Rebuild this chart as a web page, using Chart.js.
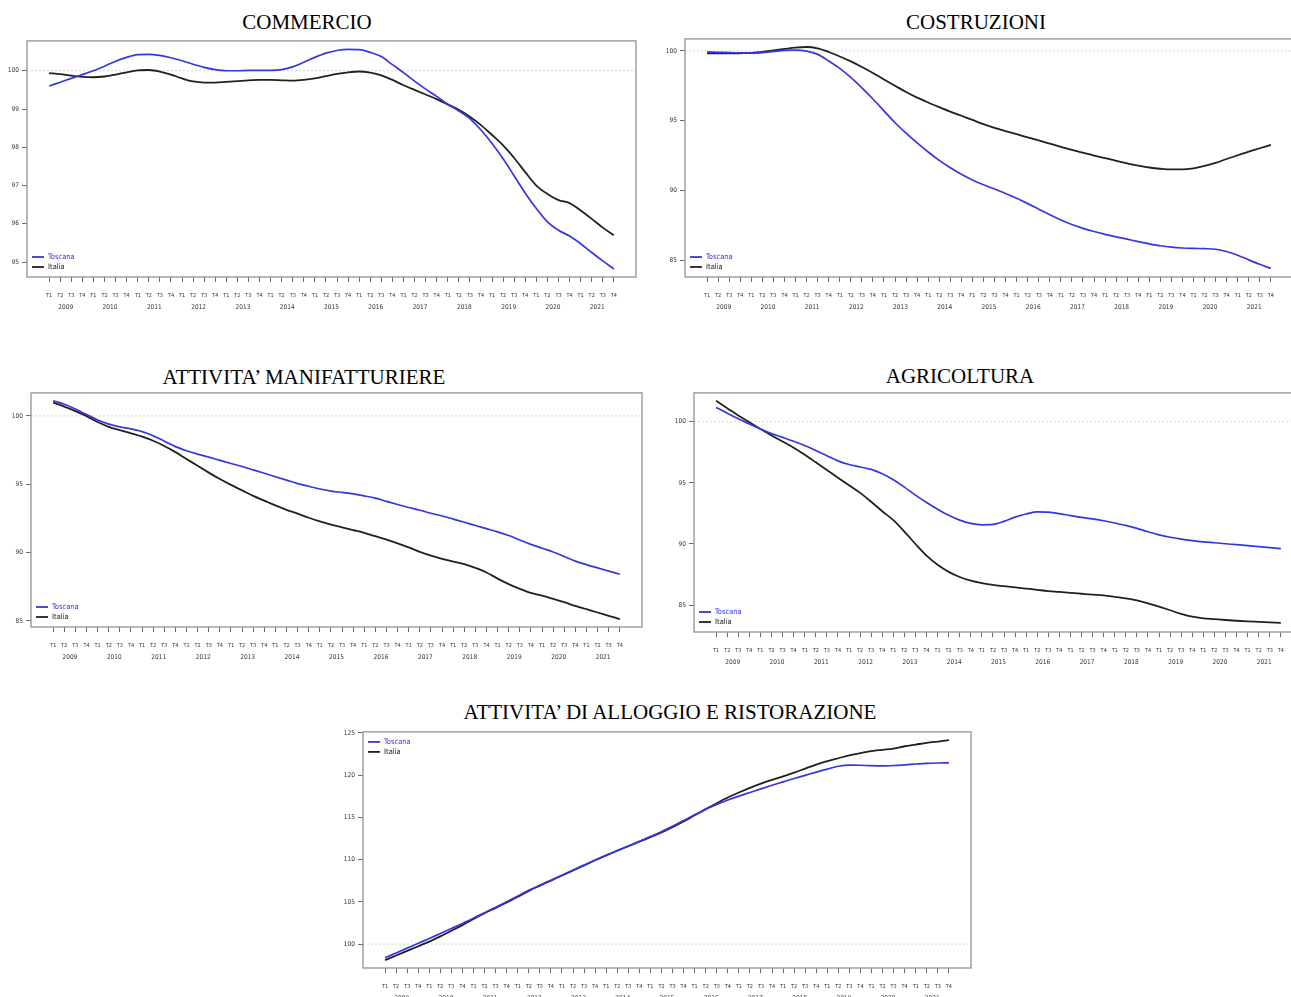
<!DOCTYPE html>
<html>
<head>
<meta charset="utf-8">
<script src="https://cdn.jsdelivr.net/npm/chart.js@4.4.1/dist/chart.umd.min.js"></script>
<style>
  html, body { margin: 0; padding: 0; background: #fff; }
  body { width: 1291px; height: 997px; overflow: hidden; position: relative; }
  .title { position: absolute; font-family: 'Liberation Serif', 'Times New Roman', serif; font-size: 21px;
           line-height: 1; color: #000; white-space: nowrap; transform: translateX(-50%); }
  canvas { position: absolute; }
</style>
</head>
<body>
<script>
// Quarterly index series, 2009 T1 – 2021 T4 (base = 100)
const quarters = ['T1', 'T2', 'T3', 'T4'];
const years = [2009, 2010, 2011, 2012, 2013, 2014, 2015, 2016, 2017, 2018, 2019, 2020, 2021];
const seriesNames = ['Toscana', 'Italia'];
const baseIndex = 100;

const commercioToscana = [
  99.60, 99.70, 99.80, 99.90, 100.00, 100.12, 100.25, 100.35, 100.42, 100.43,
  100.40, 100.34, 100.26, 100.17, 100.09, 100.03, 100.00, 100.00, 100.01, 100.01,
  100.01, 100.03, 100.10, 100.22, 100.35, 100.46, 100.53, 100.56, 100.55, 100.48,
  100.37, 100.16, 99.95, 99.73, 99.52, 99.33, 99.12, 98.95, 98.75, 98.45,
  98.10, 97.70, 97.25, 96.80, 96.40, 96.05, 95.83, 95.68, 95.48, 95.25,
  95.03, 94.82];
const commercioItalia = [
  99.94, 99.91, 99.87, 99.84, 99.83, 99.85, 99.90, 99.96, 100.01, 100.02,
  99.98, 99.90, 99.80, 99.72, 99.69, 99.69, 99.71, 99.73, 99.75, 99.76,
  99.76, 99.75, 99.74, 99.76, 99.80, 99.86, 99.92, 99.96, 99.98, 99.95,
  99.88, 99.76, 99.62, 99.50, 99.38, 99.26, 99.12, 98.98, 98.80, 98.58,
  98.32, 98.05, 97.72, 97.35, 97.00, 96.78, 96.62, 96.54, 96.35, 96.13,
  95.90, 95.70];

const costruzioniToscana = [
  99.93, 99.90, 99.87, 99.85, 99.84, 99.88, 99.96, 100.04, 100.06, 99.98,
  99.75, 99.28, 98.75, 98.10, 97.35, 96.55, 95.70, 94.85, 94.10, 93.40,
  92.75, 92.15, 91.62, 91.15, 90.75, 90.40, 90.10, 89.78, 89.43, 89.05,
  88.65, 88.25, 87.88, 87.55, 87.28, 87.05, 86.85, 86.67, 86.50, 86.33,
  86.17, 86.03, 85.93, 85.87, 85.84, 85.82, 85.78, 85.62, 85.35, 85.02,
  84.70, 84.40];
const costruzioniItalia = [
  99.83, 99.82, 99.82, 99.83, 99.85, 99.92, 100.03, 100.14, 100.24, 100.28,
  100.18, 99.92, 99.60, 99.25, 98.85, 98.42, 97.95, 97.50, 97.05, 96.65,
  96.30, 95.97, 95.65, 95.35, 95.05, 94.75, 94.48, 94.25, 94.03, 93.80,
  93.58, 93.35, 93.12, 92.90, 92.70, 92.50, 92.32, 92.12, 91.94, 91.78,
  91.64, 91.55, 91.50, 91.50, 91.58, 91.75, 91.97, 92.25, 92.52, 92.78,
  93.02, 93.26];

const manifatturiereToscana = [
  101.10, 100.85, 100.50, 100.10, 99.70, 99.40, 99.20, 99.05, 98.85, 98.55,
  98.15, 97.75, 97.45, 97.20, 96.98, 96.75, 96.52, 96.30, 96.05, 95.80,
  95.55, 95.30, 95.05, 94.85, 94.65, 94.50, 94.40, 94.30, 94.15, 93.98,
  93.75, 93.52, 93.30, 93.10, 92.88, 92.68, 92.45, 92.22, 91.98, 91.75,
  91.52, 91.25, 90.92, 90.60, 90.32, 90.05, 89.72, 89.38, 89.12, 88.88,
  88.65, 88.42];
const manifatturiereItalia = [
  100.97, 100.68, 100.35, 99.98, 99.55, 99.20, 98.95, 98.72, 98.48, 98.18,
  97.80, 97.35, 96.85, 96.35, 95.85, 95.38, 94.95, 94.55, 94.15, 93.80,
  93.45, 93.13, 92.85, 92.55, 92.28, 92.05, 91.85, 91.65, 91.45, 91.20,
  90.95, 90.68, 90.38, 90.05, 89.78, 89.55, 89.35, 89.15, 88.88, 88.55,
  88.10, 87.70, 87.35, 87.05, 86.85, 86.62, 86.38, 86.10, 85.86, 85.62,
  85.38, 85.14];

const agricolturaToscana = [
  101.17, 100.70, 100.25, 99.82, 99.40, 99.03, 98.72, 98.40, 98.05, 97.65,
  97.22, 96.80, 96.50, 96.30, 96.10, 95.75, 95.25, 94.65, 94.00, 93.40,
  92.85, 92.35, 91.95, 91.68, 91.57, 91.60, 91.85, 92.20, 92.45, 92.62,
  92.60, 92.48, 92.32, 92.18, 92.05, 91.90, 91.72, 91.52, 91.28, 91.00,
  90.75, 90.55, 90.40, 90.28, 90.18, 90.10, 90.02, 89.94, 89.86, 89.78,
  89.70, 89.62];
const agricolturaItalia = [
  101.71, 101.10, 100.52, 99.95, 99.40, 98.88, 98.38, 97.88, 97.30, 96.68,
  96.05, 95.42, 94.80, 94.18, 93.45, 92.68, 91.95, 91.02, 90.00, 89.05,
  88.30, 87.72, 87.30, 87.00, 86.80, 86.65, 86.55, 86.45, 86.35, 86.25,
  86.15, 86.08, 86.00, 85.93, 85.86, 85.80, 85.68, 85.55, 85.38, 85.15,
  84.88, 84.58, 84.28, 84.05, 83.92, 83.85, 83.78, 83.72, 83.67, 83.63,
  83.59, 83.55];

const alloggioToscana = [
  98.39, 98.95, 99.52, 100.10, 100.67, 101.26, 101.85, 102.45, 103.08, 103.72,
  104.35, 105.00, 105.68, 106.37, 106.97, 107.56, 108.15, 108.75, 109.35, 109.95,
  110.52, 111.08, 111.62, 112.17, 112.72, 113.30, 113.95, 114.62, 115.30, 115.95,
  116.52, 117.05, 117.52, 117.95, 118.38, 118.80, 119.20, 119.60, 119.98, 120.36,
  120.72, 121.05, 121.18, 121.17, 121.12, 121.10, 121.14, 121.22, 121.32, 121.40,
  121.44, 121.46];
const alloggioItalia = [
  98.11, 98.65, 99.20, 99.75, 100.30, 100.92, 101.58, 102.25, 102.98, 103.65,
  104.28, 104.92, 105.60, 106.30, 106.92, 107.52, 108.12, 108.72, 109.32, 109.92,
  110.50, 111.05, 111.58, 112.12, 112.65, 113.22, 113.85, 114.52, 115.25, 115.98,
  116.68, 117.35, 117.95, 118.50, 119.00, 119.45, 119.85, 120.30, 120.78, 121.25,
  121.65, 122.00, 122.35, 122.62, 122.85, 123.00, 123.15, 123.42, 123.62, 123.82,
  123.98, 124.14];

// y-axis tick labels per panel
const ticksCommercio = [95, 96, 97, 98, 99, 100];
const ticksCostruzioni = [85, 90, 95, 100];
const ticksManifatturiere = [85, 90, 95, 100];
const ticksAgricoltura = [85, 90, 95, 100];
const ticksAlloggio = [100, 105, 110, 115, 120, 125];

const COLOR_TOS = '#3636e0';
const COLOR_ITA = '#202020';
const SMALL_FONT = "'Liberation Sans Narrow', 'DejaVu Sans Condensed', 'Liberation Sans', sans-serif";

const panels = [
  { title: 'COMMERCIO', tx: 307, ty: 22, box: [27, 40, 636, 277], ymin: 94.61, ymax: 100.78,
    yticks: ticksCommercio, tos: commercioToscana, ita: commercioItalia, legend: 'bottom' },
  { title: 'COSTRUZIONI', tx: 976, ty: 22, box: [685, 38, 1293, 277], ymin: 83.79, ymax: 100.86,
    yticks: ticksCostruzioni, tos: costruzioniToscana, ita: costruzioniItalia, legend: 'bottom' },
  { title: 'ATTIVITA’ MANIFATTURIERE', tx: 304, ty: 377, box: [31, 392, 642, 627], ymin: 84.56, ymax: 101.68,
    yticks: ticksManifatturiere, tos: manifatturiereToscana, ita: manifatturiereItalia, legend: 'bottom' },
  { title: 'AGRICOLTURA', tx: 960, ty: 376, box: [694, 392, 1303, 632], ymin: 82.8, ymax: 102.36,
    yticks: ticksAgricoltura, tos: agricolturaToscana, ita: agricolturaItalia, legend: 'bottom' },
  { title: 'ATTIVITA’ DI ALLOGGIO E RISTORAZIONE', tx: 670, ty: 712, box: [363, 731, 971, 968], ymin: 97.17, ymax: 125.12,
    yticks: ticksAlloggio, tos: alloggioToscana, ita: alloggioItalia, legend: 'top' }
];

// Frame around the plot area, dotted reference line at the base index, inset legend
const framePlugin = {
  id: 'frame',
  beforeDatasetsDraw(chart) {
    const { ctx, chartArea: a, scales: { y } } = chart;
    ctx.save();
    const py = y.getPixelForValue(baseIndex);
    ctx.strokeStyle = '#d6d6d6';
    ctx.lineWidth = 1;
    ctx.setLineDash([2, 2]);
    ctx.beginPath();
    ctx.moveTo(a.left, py);
    ctx.lineTo(a.right, py);
    ctx.stroke();
    ctx.setLineDash([]);
    ctx.strokeStyle = '#999999';
    ctx.lineWidth = 1.4;
    ctx.strokeRect(a.left, a.top, a.right - a.left, a.bottom - a.top);
    ctx.restore();
  },
  afterDatasetsDraw(chart, args, opts) {
    const { ctx, chartArea: a } = chart;
    const rows = opts.position === 'top' ? [a.top + 10, a.top + 20] : [a.bottom - 20, a.bottom - 10];
    ctx.save();
    ctx.font = "7.5px " + SMALL_FONT;
    ctx.textBaseline = 'middle';
    chart.data.datasets.forEach((ds, k) => {
      const yy = rows[k];
      ctx.strokeStyle = ds.borderColor;
      ctx.lineWidth = 1.8;
      ctx.beginPath();
      ctx.moveTo(a.left + 5, yy);
      ctx.lineTo(a.left + 17, yy);
      ctx.stroke();
      ctx.fillStyle = ds.borderColor;
      ctx.fillText(ds.label, a.left + 21, yy);
    });
    ctx.restore();
  }
};

function makePanel(p) {
  const yW = 26, padT = 6, padR = 6, xH1 = 22, xH2 = 26;
  const [l, t, r, b] = p.box;

  const title = document.createElement('div');
  title.className = 'title';
  title.textContent = p.title;
  title.style.left = p.tx + 'px';
  title.style.top = (p.ty - 10) + 'px';
  document.body.appendChild(title);

  const w = yW + (r - l) + padR;
  const h = padT + (b - t) + xH1 + xH2;
  const cv = document.createElement('canvas');
  cv.width = w; cv.height = h;
  cv.style.width = w + 'px'; cv.style.height = h + 'px';
  cv.style.left = (l - yW) + 'px';
  cv.style.top = (t - padT) + 'px';
  document.body.appendChild(cv);

  const toPoints = arr => arr.map((v, i) => ({ x: i, y: v }));
  const quarterTicks = [];
  years.forEach((yr, k) => quarters.forEach((q, j) => quarterTicks.push(k * 4 + j)));
  const yearTicks = years.map((yr, k) => k * 4 + 1.5);

  new Chart(cv, {
    type: 'line',
    data: {
      datasets: [
        { label: seriesNames[0], data: toPoints(p.tos), borderColor: COLOR_TOS, borderWidth: 1.7 },
        { label: seriesNames[1], data: toPoints(p.ita), borderColor: COLOR_ITA, borderWidth: 1.8 }
      ]
    },
    options: {
      responsive: false,
      animation: false,
      devicePixelRatio: 1,
      layout: { padding: { left: 0, top: padT, right: padR, bottom: 0 } },
      elements: { point: { radius: 0 }, line: { cubicInterpolationMode: 'monotone', fill: false } },
      plugins: { legend: { display: false }, tooltip: { enabled: false }, frame: { position: p.legend } },
      scales: {
        x: {
          type: 'linear', min: -2, max: 53, position: 'bottom', weight: 0,
          afterBuildTicks: a => { a.ticks = quarterTicks.map(v => ({ value: v })); },
          afterFit: a => { a.height = xH1; },
          ticks: { autoSkip: false, maxRotation: 0, padding: 10, color: '#333',
                   font: { family: SMALL_FONT, size: 5.5 },
                   callback: v => quarters[Math.round(v) % 4] },
          grid: { drawOnChartArea: false, drawTicks: true, tickLength: 5, color: '#444', lineWidth: 0.8 },
          border: { display: false }
        },
        x2: {
          type: 'linear', min: -2, max: 53, position: 'bottom', weight: 1,
          afterBuildTicks: a => { a.ticks = yearTicks.map(v => ({ value: v })); },
          afterFit: a => { a.height = xH2; },
          ticks: { autoSkip: false, maxRotation: 0, padding: 4, color: '#333',
                   font: { family: SMALL_FONT, size: 6.5 },
                   callback: v => String(years[Math.round((v - 1.5) / 4)]) },
          grid: { display: false, drawTicks: false },
          border: { display: false }
        },
        y: {
          type: 'linear', min: p.ymin, max: p.ymax,
          afterBuildTicks: a => { a.ticks = p.yticks.map(v => ({ value: v })); },
          afterFit: a => { a.width = yW; },
          ticks: { padding: 3, color: '#333', font: { family: SMALL_FONT, size: 6.5 } },
          grid: { drawOnChartArea: false, drawTicks: true, tickLength: 5, color: '#444', lineWidth: 0.8 },
          border: { display: false }
        }
      }
    },
    plugins: [framePlugin]
  });
}

panels.forEach(makePanel);
</script>
</body>
</html>
